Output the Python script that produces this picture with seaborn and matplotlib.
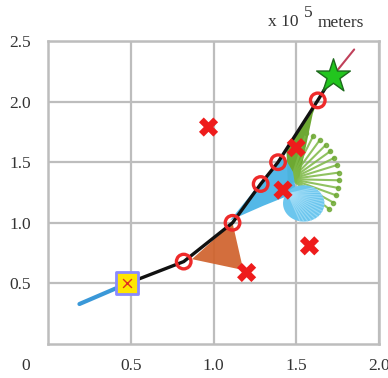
import numpy as np
import pandas as pd
import seaborn as sns
import matplotlib.pyplot as plt
from matplotlib.patches import Polygon

# trajectory (x 10^5 m)
path_x = [0.48, 0.82, 1.115, 1.285, 1.39, 1.63, 1.72]
path_y = [0.50, 0.68, 1.00, 1.32, 1.50, 2.01, 2.21]
# sampled positions (circles)
circ_x = [0.82, 1.115, 1.285, 1.39, 1.63]
circ_y = [0.68, 1.00, 1.32, 1.50, 2.01]
# start / end
start_pt = (0.48, 0.50)
end_pt = (1.72, 2.21)
tail_x = [0.19, 0.48]
tail_y = [0.33, 0.50]
head_x = [1.72, 1.85]
head_y = [2.21, 2.43]
# outliers (crosses)
cross_x = [0.97, 1.20, 1.50, 1.42, 1.58]
cross_y = [1.79, 0.59, 1.62, 1.27, 0.81]

xticks = [0.5, 1.0, 1.5, 2.0]
yticks = [0.5, 1.0, 1.5, 2.0, 2.5]

# decoration shapes (data coords)
tri_pts = [(1.115, 1.00), (0.87, 0.70), (1.18, 0.61)]
blue_streak = [(1.10, 1.02), (1.42, 1.56), (1.48, 1.42), (1.50, 1.25), (1.30, 1.14)]
blue_origin = (1.45, 1.24)
blue_shell = (1.545, 1.16, 0.125, 0.15)
green_stem = [(1.63, 2.01), (1.44, 1.62), (1.45, 1.30), (1.52, 1.38), (1.60, 1.90)]
green_origin = (1.47, 1.36)

sns.set_theme(style="white")
plt.rcParams['font.family'] = ['Liberation Serif', 'DejaVu Serif']

fig = plt.figure(figsize=(3.88, 3.78), dpi=100)
ax = fig.add_axes([48/388, 34/378, 331/388, 303/378])

gc = '#bdbdbd'
ax.set_xlim(0, 2.0)
ax.set_ylim(0, 2.5)
ax.set_xticks(xticks)
ax.set_yticks(yticks)
ax.grid(True, color=gc, lw=1.6)
for s in ax.spines.values():
    s.set_color(gc)
    s.set_linewidth(1.8)
ax.tick_params(axis='both', length=0, labelsize=12.5, colors='#333333')
ax.tick_params(axis='y', pad=12)
ax.tick_params(axis='x', pad=10)
ax.annotate('0', xy=(0, 0), xytext=(-22, -22), textcoords='offset pixels',
            ha='center', va='center', fontsize=12.5, color='#333333', annotation_clip=False)

# orange wedge
ax.add_patch(Polygon(tri_pts, closed=True, fc='#d0622c', ec='none', alpha=0.92, zorder=2))
# green stem + fan
ax.add_patch(Polygon(green_stem, closed=True, fc='#6da832', ec='none', zorder=2))
for a in np.linspace(-38, 72, 13):
    ex = green_origin[0] + 0.29 * np.cos(np.radians(a))
    ey = green_origin[1] + 0.40 * np.sin(np.radians(a))
    ax.plot([green_origin[0], ex], [green_origin[1], ey], color='#7db845', lw=1.5, alpha=0.85, zorder=2)
    ax.plot([ex], [ey], marker='o', ms=3, color='#6da832', alpha=0.8, zorder=2)
# blue streak + shell
ax.add_patch(Polygon(blue_streak, closed=True, fc='#4bb4e6', ec='none', alpha=0.95, zorder=2.5))
cx, cy, rx, ry = blue_shell
shell = [(cx + rx * np.cos(t), cy + ry * np.sin(t)) for t in np.linspace(0, 2 * np.pi, 60)]
ax.add_patch(Polygon(shell, closed=True, fc='#6cc6ee', ec='none', zorder=2.5))
for a in np.linspace(-100, 60, 16):
    ex = cx + rx * np.cos(np.radians(a))
    ey = cy + ry * np.sin(np.radians(a))
    ax.plot([blue_origin[0], ex], [blue_origin[1], ey], color='#a8e0f8', lw=0.9, alpha=0.7, zorder=2.6)

sns.lineplot(x=tail_x, y=tail_y, color='#3a98d8', lw=3, ax=ax, zorder=3)
sns.lineplot(x=head_x, y=head_y, color='#c0405a', lw=1.5, ax=ax, zorder=3)
sns.lineplot(x=path_x, y=path_y, color='#111111', lw=2.4, ax=ax, zorder=4, sort=False)

sns.scatterplot(x=circ_x, y=circ_y, marker='o', s=110, facecolor='none',
                edgecolor='#ee2a2a', linewidth=2.4, ax=ax, zorder=5)
sns.scatterplot(x=cross_x, y=cross_y, marker='X', s=190, color='#ee1c1c',
                edgecolor='none', ax=ax, zorder=6)
sns.scatterplot(x=[start_pt[0]], y=[start_pt[1]], marker='s', s=260, color='#ffe600',
                edgecolor='#8a8aff', linewidth=2, ax=ax, zorder=6)
sns.scatterplot(x=[start_pt[0]], y=[start_pt[1]], marker='x', s=40, color='#e03020',
                linewidth=1, ax=ax, zorder=7)
sns.scatterplot(x=[end_pt[0]], y=[end_pt[1]], marker='*', s=650, color='#22c51e',
                edgecolor='#1c6a1c', linewidth=1, ax=ax, zorder=6)

ax.set_xlabel('')
ax.set_ylabel('')

fig.text(268/388, 1 - 22/378, 'x 10', fontsize=12.5, ha='left', va='center', color='#333333')
fig.text(304/388, 1 - 13/378, '5', fontsize=12.5, ha='left', va='center', color='#333333')
fig.text(318/388, 1 - 23/378, 'meters', fontsize=12.5, ha='left', va='center', color='#333333')

fig.savefig('out.png', dpi=100)
